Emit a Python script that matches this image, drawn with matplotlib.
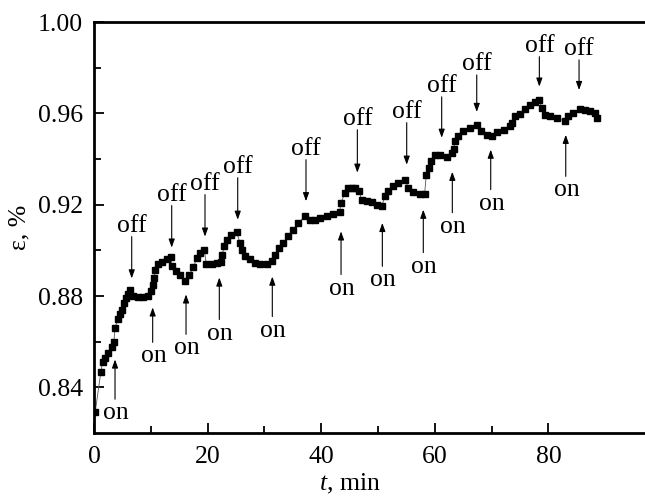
import matplotlib
matplotlib.use("Agg")
import matplotlib.pyplot as plt
from matplotlib.ticker import FixedLocator

plt.rcParams['font.family'] = ['Liberation Serif', 'DejaVu Serif']
plt.rcParams['mathtext.fontset'] = 'custom'
plt.rcParams['mathtext.rm'] = 'Liberation Serif'
plt.rcParams['mathtext.it'] = 'Liberation Serif:italic'

# ---- data (t, min ; strain eps, %) ----
t = [0.2, 1.2, 1.5, 1.9, 2.5, 3.1, 3.5, 3.7, 4.2, 4.6, 5.0, 5.3, 5.6, 6.0, 6.3, 6.9,
     7.8, 8.7, 9.5, 10.0, 10.3, 10.6, 10.8, 11.3, 11.9, 12.8, 13.5, 13.7, 14.4, 15.1,
     16.0, 16.7, 17.5, 18.1, 18.7, 19.4, 19.8, 20.7, 21.6, 22.3, 22.6, 22.9, 23.4,
     24.1, 25.1, 25.7, 26.0, 26.6, 27.5, 28.3, 29.2, 30.4, 31.3, 31.9, 32.5, 33.3,
     34.2, 35.1, 36.0, 37.1, 38.0, 38.9, 39.8, 41.0, 42.1, 43.3, 43.4, 44.2, 44.8,
     45.4, 46.0, 46.7, 47.1, 48.0, 48.9, 49.8, 50.7, 51.2, 51.8, 52.7, 53.6, 54.8,
     55.3, 56.2, 57.4, 58.2, 58.5, 58.9, 59.3, 60.0, 60.9, 62.1, 63.0, 63.3, 63.6,
     64.1, 65.0, 66.2, 67.4, 68.2, 69.1, 70.0, 70.9, 72.1, 73.2, 73.5, 74.1, 75.0,
     75.9, 76.8, 77.6, 78.4, 78.8, 79.4, 80.3, 81.5, 82.9, 83.5, 84.4, 85.6, 86.4,
     87.3, 88.2, 88.6]
eps = [0.829, 0.8466, 0.851, 0.853, 0.855, 0.8575, 0.860, 0.866, 0.870, 0.872, 0.874,
       0.877, 0.879, 0.8807, 0.8825, 0.880, 0.8795, 0.8795, 0.880, 0.882, 0.885, 0.888,
       0.8916, 0.8938, 0.895, 0.8964, 0.897, 0.893, 0.891, 0.889, 0.8865, 0.889,
       0.8925, 0.8968, 0.899, 0.9003, 0.8938, 0.8938, 0.8946, 0.895, 0.898, 0.9018,
       0.9047, 0.9069, 0.9079, 0.9034, 0.9003, 0.8977, 0.896, 0.8945, 0.8938, 0.8942,
       0.8952, 0.898, 0.901, 0.9033, 0.9062, 0.909, 0.912, 0.9149, 0.9134, 0.9134,
       0.914, 0.9152, 0.9159, 0.9167, 0.9207, 0.925, 0.9273, 0.9273, 0.9273, 0.9258,
       0.9222, 0.9215, 0.921, 0.920, 0.9196, 0.9237, 0.9258, 0.928, 0.9295, 0.931,
       0.9273, 0.9254, 0.9248, 0.9247, 0.9331, 0.936, 0.939, 0.9419, 0.9419, 0.9408,
       0.9426, 0.9445, 0.9477, 0.950, 0.9522, 0.9535, 0.955, 0.9522, 0.9506, 0.950,
       0.9517, 0.9525, 0.9543, 0.9558, 0.9587, 0.9596, 0.962, 0.9637, 0.9648, 0.966,
       0.9624, 0.9594, 0.9587, 0.958, 0.9565, 0.9587, 0.9602, 0.962, 0.9613, 0.9609,
       0.9602, 0.958]

# "off" arrows: time, arrow tail (top), arrow tip
off_t    = [6.64, 13.68, 19.54, 25.30, 37.32, 46.36, 55.05, 61.21, 67.38, 78.40, 85.39]
off_tail = [0.9060, 0.9196, 0.9244, 0.9318, 0.9397, 0.9528, 0.9559, 0.9672, 0.9768, 0.9848, 0.9834]
off_tip  = [0.8877, 0.9012, 0.9060, 0.9134, 0.9215, 0.9340, 0.9375, 0.9493, 0.9606, 0.9717, 0.9702]

# "on" arrows: time, arrow tail (bottom), arrow tip
on_t    = [3.70, 10.33, 16.20, 22.06, 31.39, 43.49, 50.76, 57.97, 63.08, 69.84, 83.05]
on_tail = [0.8348, 0.8597, 0.8632, 0.8697, 0.8710, 0.8894, 0.8930, 0.8990, 0.9165, 0.9266, 0.9324]
on_tip  = [0.8522, 0.8750, 0.8807, 0.8881, 0.8885, 0.9083, 0.9120, 0.9178, 0.9344, 0.9441, 0.9506]

x_major = [0, 20, 40, 60, 80]
x_minor = [10, 30, 50, 70]
y_major = [0.84, 0.88, 0.92, 0.96, 1.00]
y_minor = [0.86, 0.90, 0.94, 0.98]

# ---- figure ----
W, H = 645, 498
fig = plt.figure(figsize=(W / 100, H / 100), dpi=100)
ax = fig.add_axes([94 / W, 1 - 433 / H, (W - 94) / W, (433 - 22) / H])

ax.plot(t, eps, color='#555555', lw=0.6, zorder=2)
ax.plot(t, eps, ls='none', marker='s', ms=4.0, mfc='black', mec='black', zorder=3)

arrow_kw = dict(arrowstyle='-|>,head_length=0.5,head_width=0.18', lw=0.8,
                color='black', shrinkA=0, shrinkB=0, mutation_scale=10)
for x, a, b in zip(off_t, off_tail, off_tip):
    ax.annotate('', xy=(x, b), xytext=(x, a), arrowprops=arrow_kw)
    ax.annotate('off', xy=(x, a), xytext=(0, 5), textcoords='offset pixels',
                ha='center', va='baseline', fontsize=18.5)
for x, a, b in zip(on_t, on_tail, on_tip):
    ax.annotate('', xy=(x, b), xytext=(x, a), arrowprops=arrow_kw)
    ax.annotate('on', xy=(x, a), xytext=(1, -20), textcoords='offset pixels',
                ha='center', va='baseline', fontsize=18.5)

ax.set_xlim(0, 97)
ax.set_ylim(0.82, 1.00)
ax.xaxis.set_major_locator(FixedLocator(x_major))
ax.xaxis.set_minor_locator(FixedLocator(x_minor))
ax.yaxis.set_major_locator(FixedLocator(y_major))
ax.yaxis.set_minor_locator(FixedLocator(y_minor))
ax.set_xticklabels([str(v) for v in x_major])
ax.set_yticklabels([f"{v:.2f}" for v in y_major])

ax.tick_params(which='both', direction='in', width=1.3, labelsize=18.5,
               top=False, right=False)
ax.tick_params(which='major', length=7.5)
ax.tick_params(which='minor', length=5)
ax.tick_params(axis='x', pad=9)
ax.tick_params(axis='y', pad=8)

for s in ['left', 'bottom', 'top']:
    ax.spines[s].set_linewidth(2.0)
ax.spines['right'].set_visible(False)

ax.set_xlabel(r'$t$, min', fontsize=18.5, va='center')
ax.xaxis.set_label_coords((350 - 94) / (W - 94), -0.125)
ax.set_ylabel('ε, %', fontsize=18.5)
ax.yaxis.set_label_coords(-0.116, 0.5)

fig.savefig('out.png', dpi=100)
